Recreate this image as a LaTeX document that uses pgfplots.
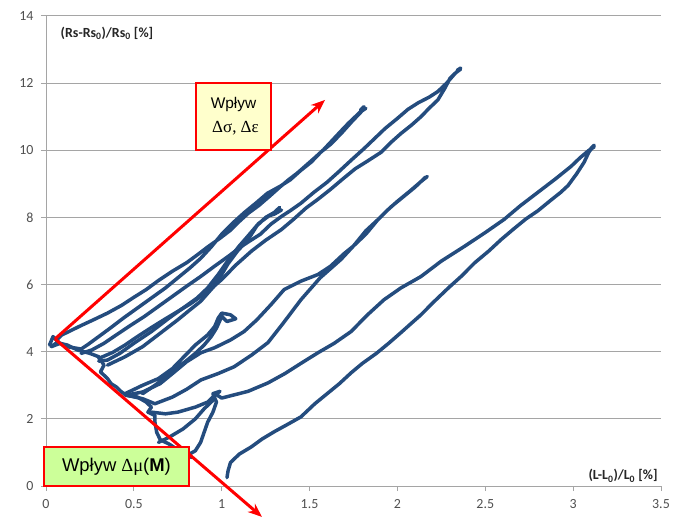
\documentclass[border=0pt]{standalone}
\usepackage{pgfplots}
\pgfplotsset{compat=1.18}
\usetikzlibrary{arrows.meta}
\usepackage{fontspec}
\setmainfont{Carlito}
\newfontfamily\arial{Liberation Sans}
\newfontfamily\tnr{Liberation Serif}
\definecolor{curve}{RGB}{36,76,126}
\definecolor{gridc}{RGB}{165,165,165}
\definecolor{ybox}{RGB}{255,255,204}
\definecolor{gbox}{RGB}{204,255,153}
\definecolor{tickc}{RGB}{80,80,80}
\tikzset{cst/.style={draw=curve, solid, line width=3.5bp, line join=round, line cap=round, mark=none}}
\begin{document}
\begin{tikzpicture}[x=1bp,y=1bp]
\begin{axis}[
  at={(0,0)}, anchor=south west,
  scale only axis, width=615bp, height=470bp,
  xmin=0, xmax=3.5, ymin=0, ymax=14,
  enlargelimits=false, clip=false,
  xtick={0,0.5,1,1.5,2,2.5,3,3.5}, ytick={0,2,4,6,8,10,12,14},
  axis x line*=bottom, axis y line*=left,
  ymajorgrids, grid style={gridc, line width=1bp},
  axis line style={gridc, line width=1bp},
  tick style={gridc, line width=1bp},
  major tick length=5bp, tick align=outside,
  /pgf/number format/assume math mode=true,
  ticklabel style={font=\fontsize{14}{16}\selectfont, text=tickc},
  xticklabel style={yshift=-5bp},
  yticklabel style={xshift=-4bp},
]
% diagonal relaxation path
\addplot[cst] coordinates {(0.02,4.2)(0.04,4.45)(0.07,4.3)(0.03,4.15)(0.08,4.25)(0.12,4.2)(0.18,4.05)(0.25,3.95)(0.3,3.85)(0.33,3.6)(0.31,3.4)(0.35,3.2)(0.37,3.05)(0.4,2.95)(0.43,2.8)(0.46,2.7)(0.52,2.65)(0.57,2.5)(0.6,2.35)(0.58,2.2)(0.62,2.1)(0.62,1.9)(0.63,1.6)(0.65,1.38)(0.7,1.25)(0.75,1.08)(0.8,0.92)(0.83,0.85)};
% loop A
\addplot[cst] coordinates {(0.06,4.35)(0.09,4.5)(0.13,4.6)(0.2,4.78)(0.27,4.95)(0.35,5.15)(0.43,5.38)(0.5,5.62)(0.57,5.85)(0.64,6.12)(0.72,6.4)(0.8,6.65)(0.86,6.88)(0.92,7.12)(0.99,7.38)(1.05,7.62)(1.1,7.88)(1.15,8.12)(1.21,8.35)(1.27,8.62)(1.33,8.9)(1.38,9.12)(1.43,9.32)(1.48,9.55)(1.53,9.78)(1.58,10.02)(1.63,10.3)(1.68,10.58)(1.72,10.8)(1.76,11.0)(1.79,11.15)(1.81,11.3)(1.79,11.2)(1.82,11.25)(1.80,11.18)(1.74,10.85)(1.68,10.5)(1.62,10.18)(1.565,9.95)(1.51,9.65)(1.45,9.4)(1.39,9.12)(1.33,8.92)(1.26,8.72)(1.2,8.45)(1.13,8.15)(1.06,7.82)(1.0,7.5)(0.94,7.12)(0.88,6.78)(0.82,6.5)(0.75,6.2)(0.68,5.9)(0.6,5.6)(0.52,5.3)(0.44,5.0)(0.37,4.72)(0.3,4.45)(0.24,4.22)(0.2,4.08)(0.12,4.15)(0.06,4.3)};
% loop B
\addplot[cst] coordinates {(0.3,3.8)(0.38,3.98)(0.45,4.2)(0.52,4.45)(0.6,4.72)(0.68,4.98)(0.75,5.2)(0.82,5.42)(0.88,5.64)(0.94,5.88)(1.0,6.15)(1.08,6.58)(1.17,7.0)(1.25,7.32)(1.34,7.64)(1.41,7.95)(1.48,8.28)(1.55,8.55)(1.62,8.84)(1.69,9.15)(1.76,9.45)(1.83,9.68)(1.907,9.94)(1.96,10.22)(2.02,10.5)(2.08,10.75)(2.134,11.0)(2.18,11.25)(2.23,11.5)(2.27,11.85)(2.30,12.15)(2.33,12.3)(2.36,12.45)(2.34,12.38)(2.36,12.42)(2.33,12.3)(2.28,12.0)(2.23,11.75)(2.18,11.58)(2.12,11.42)(2.06,11.22)(2.0,10.95)(1.93,10.65)(1.87,10.35)(1.81,10.05)(1.74,9.72)(1.67,9.38)(1.6,9.05)(1.525,8.75)(1.45,8.42)(1.39,8.2)(1.34,8.03)(1.28,7.8)(1.22,7.5)(1.16,7.3)(1.11,7.13)(1.04,6.85)(0.96,6.55)(0.88,6.24)(0.8,5.95)(0.72,5.65)(0.64,5.35)(0.56,5.05)(0.48,4.78)(0.4,4.5)(0.33,4.25)(0.26,4.05)(0.2,3.95)};
% loop C
\addplot[cst] coordinates {(0.35,3.6)(0.45,3.85)(0.55,4.15)(0.65,4.55)(0.75,4.95)(0.82,5.25)(0.88,5.5)(0.956,5.95)(1.0,6.3)(1.036,6.62)(1.09,7.0)(1.15,7.34)(1.2,7.75)(1.25,8.0)(1.3,8.15)(1.33,8.3)(1.31,8.2)(1.34,8.22)(1.3,8.1)(1.27,8.05)(1.21,7.82)(1.15,7.45)(1.1,7.15)(1.04,6.75)(0.98,6.3)(0.92,5.9)(0.86,5.6)(0.78,5.3)(0.7,5.0)(0.6,4.6)(0.5,4.25)(0.42,3.95)(0.35,3.75)(0.3,3.72)};
% loop D
\addplot[cst] coordinates {(0.46,2.7)(0.55,2.6)(0.62,2.45)(0.72,2.65)(0.8,2.88)(0.882,3.16)(0.98,3.35)(1.07,3.55)(1.17,3.9)(1.263,4.27)(1.35,4.85)(1.451,5.55)(1.56,6.2)(1.679,6.75)(1.75,7.15)(1.82,7.6)(1.89,7.94)(1.96,8.3)(2.03,8.6)(2.1,8.9)(2.16,9.2)(2.14,9.1)(2.17,9.22)(2.13,9.05)(2.07,8.78)(2.0,8.48)(1.94,8.2)(1.89,7.94)(1.82,7.5)(1.75,7.15)(1.696,6.92)(1.62,6.55)(1.548,6.3)(1.45,6.1)(1.355,5.85)(1.28,5.4)(1.2,4.95)(1.127,4.6)(1.05,4.35)(0.96,4.12)(0.882,3.97)(0.8,3.7)(0.72,3.35)(0.65,3.05)(0.55,2.8)(0.45,2.7)};
% loop E
\addplot[cst] coordinates {(0.45,2.75)(0.55,3.0)(0.64,3.2)(0.72,3.5)(0.785,3.85)(0.85,4.2)(0.92,4.5)(0.96,4.75)(0.98,5.0)(1.0,5.15)(1.05,5.1)(1.08,4.98)(1.03,4.9)(1.0,5.05)(0.97,4.7)(0.94,4.45)(0.9,4.2)(0.85,3.95)(0.78,3.65)(0.7,3.3)(0.62,3.0)(0.55,2.75)};
% loop F
\addplot[cst] coordinates {(1.03,0.25)(1.036,0.45)(1.05,0.7)(1.1,0.95)(1.167,1.16)(1.23,1.4)(1.3,1.62)(1.38,1.85)(1.451,2.06)(1.53,2.45)(1.6,2.75)(1.67,3.05)(1.736,3.37)(1.8,3.65)(1.88,3.95)(1.95,4.25)(2.02,4.57)(2.08,4.85)(2.134,5.1)(2.21,5.5)(2.29,5.9)(2.362,6.24)(2.44,6.65)(2.52,7.0)(2.59,7.34)(2.66,7.65)(2.73,7.95)(2.80,8.2)(2.87,8.5)(2.93,8.75)(2.971,8.95)(3.02,9.3)(3.062,9.64)(3.09,9.95)(3.12,10.15)(3.1,10.05)(3.12,10.1)(3.09,10.0)(3.04,9.78)(2.988,9.52)(2.9,9.15)(2.80,8.75)(2.7,8.35)(2.607,7.94)(2.5,7.55)(2.379,7.13)(2.25,6.7)(2.134,6.24)(2.02,5.9)(1.924,5.55)(1.83,5.1)(1.736,4.6)(1.64,4.25)(1.548,3.97)(1.45,3.65)(1.36,3.35)(1.263,3.07)(1.15,2.82)(1.06,2.7)(1.0,2.62)(0.97,2.72)};
% loop G
\addplot[cst] coordinates {(0.6,2.2)(0.68,2.15)(0.75,2.2)(0.85,2.35)(0.92,2.5)(0.96,2.7)(0.99,2.82)(0.95,2.75)(0.97,2.5)(0.95,2.2)(0.92,1.9)(0.9,1.6)(0.88,1.3)(0.85,1.05)(0.8,0.9)};
\addplot[cst] coordinates {(0.64,1.3)(0.7,1.45)(0.78,1.7)(0.85,2.0)(0.9,2.3)(0.95,2.55)};
% red arrows
\draw[red, line width=3bp, -{Stealth[length=14bp,width=11bp]}] (axis cs:0.051,4.38) -- (axis cs:1.588,11.5);
\draw[red, line width=3bp, -{Stealth[length=14bp,width=11bp]}] (axis cs:0.051,4.38) -- (axis cs:1.229,-0.92);
% axis titles
\node[font=\fontsize{14}{16}\selectfont\bfseries, text=black!85] at (axis cs:0.347,13.49) {(Rs-Rs\textsubscript{0})/Rs\textsubscript{0} [\%]};
\node[font=\fontsize{14}{16}\selectfont\bfseries, text=black!85] at (axis cs:3.284,0.30) {(L-L\textsubscript{0})/L\textsubscript{0} [\%]};
\coordinate (yb) at (axis cs:1.067,11.01);
\coordinate (gb) at (axis cs:0.401,0.58);
\end{axis}
\node[draw=red, line width=1.5bp, fill=ybox, minimum width=75bp, minimum height=67bp, inner sep=0pt, align=center, font=\fontsize{15.5}{25}\selectfont] at (yb) {\arial Wpływ\\[-1bp]\hspace*{4bp}{\tnr\fontsize{17}{25}\selectfont Δσ, Δε}};
\node[draw=red, line width=1.5bp, fill=gbox, minimum width=145bp, minimum height=39bp, inner sep=0pt, font=\fontsize{18.5}{20}\selectfont] at (gb) {\arial Wpływ {\tnr Δμ}(\textbf{M})};
\pgfresetboundingbox
\path (-46bp,-31bp) rectangle (638bp,486bp);
\end{tikzpicture}
\end{document}
